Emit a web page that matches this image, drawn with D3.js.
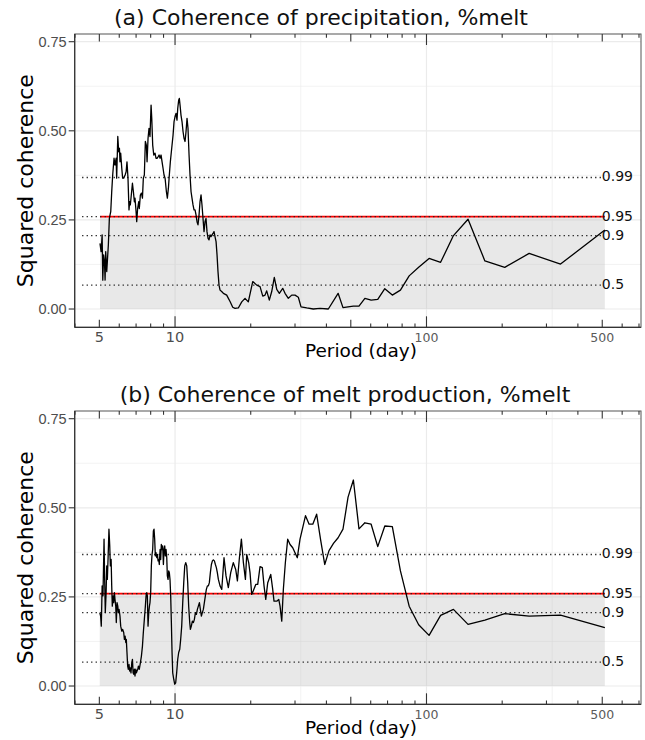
<!DOCTYPE html>
<html>
<head>
<meta charset="utf-8">
<script src="https://cdn.jsdelivr.net/npm/d3@7"></script>
<style>
  body { margin: 0; background: #fff; }
  svg { display: block; font-family: "DejaVu Sans", sans-serif; }
</style>
</head>
<body>
<svg id="chart" width="645" height="740"></svg>
<script>
// period (day) and squared coherence
var precipPeriod = [
  5.03,5.08,5.13,5.16,5.20,5.24,5.27,5.30,5.35,5.38,
  5.43,5.48,5.55,5.60,5.65,5.72,5.77,5.83,5.86,5.92,
  5.97,6.01,6.04,6.08,6.14,6.19,6.25,6.33,6.39,6.44,
  6.50,6.56,6.60,6.64,6.70,6.77,6.83,6.89,6.93,7.00,
  7.04,7.10,7.17,7.21,7.28,7.35,7.42,7.48,7.55,7.62,
  7.69,7.74,7.81,7.88,7.95,8.03,8.08,8.15,8.23,8.33,
  8.40,8.48,8.56,8.64,8.72,8.80,8.88,8.96,9.04,9.13,
  9.24,9.32,9.41,9.49,9.58,9.70,9.82,9.91,10.00,10.09,
  10.18,10.25,10.34,10.40,10.47,10.56,10.66,10.76,10.86,10.96,
  11.06,11.16,11.26,11.37,11.47,11.58,11.68,11.79,11.90,12.01,
  12.12,12.23,12.34,12.46,12.57,12.69,12.80,12.92,13.04,13.16,
  13.28,13.40,13.53,13.65,13.78,13.90,14.03,14.16,14.29,14.42,
  14.56,14.69,14.82,14.96,15.10,15.33,15.57,16.05,16.30,16.55,
  16.96,17.32,17.85,18.42,18.98,19.56,20.37,21.13,21.78,22.33,
  22.80,23.15,23.71,24.24,24.82,25.38,25.99,26.81,27.38,28.22,
  29.11,30.00,30.93,31.70,33.40,35.46,37.72,40.70,44.52,46.55,
  48.76,51.20,53.89,56.89,60.24,64.00,68.27,73.14,78.77,85.33,
  93.09,102.4,113.8,128.0,146.3,170.7,204.8,256.0,341.3,512.0
];
var precipCoh = [
  0.184,0.161,0.208,0.081,0.152,0.133,0.081,0.161,0.105,0.133,
  0.180,0.254,0.273,0.329,0.376,0.423,0.404,0.423,0.367,0.484,
  0.441,0.451,0.413,0.437,0.395,0.367,0.367,0.376,0.385,0.413,
  0.367,0.278,0.301,0.292,0.320,0.353,0.329,0.301,0.311,0.273,
  0.245,0.282,0.301,0.282,0.320,0.325,0.311,0.367,0.376,0.470,
  0.460,0.413,0.479,0.507,0.484,0.572,0.535,0.460,0.432,0.437,
  0.423,0.423,0.427,0.432,0.423,0.432,0.413,0.395,0.376,0.367,
  0.329,0.311,0.339,0.376,0.413,0.451,0.488,0.526,0.540,0.549,
  0.530,0.563,0.586,0.591,0.572,0.544,0.526,0.498,0.479,0.470,
  0.498,0.535,0.507,0.432,0.376,0.329,0.311,0.292,0.278,0.278,
  0.264,0.245,0.236,0.264,0.301,0.320,0.292,0.254,0.217,0.245,
  0.254,0.217,0.198,0.194,0.208,0.203,0.208,0.212,0.217,0.203,
  0.189,0.152,0.105,0.067,0.053,0.049,0.044,0.039,0.030,0.021,
  0.005,0.002,0.003,0.020,0.030,0.020,0.077,0.067,0.063,0.036,
  0.039,0.051,0.025,0.049,0.089,0.055,0.044,0.058,0.044,0.030,
  0.039,0.039,0.033,0.006,0.003,0.000,0.002,0.000,0.044,0.004,
  0.006,0.008,0.008,0.030,0.025,0.027,0.057,0.039,0.053,0.093,
  0.117,0.142,0.131,0.206,0.252,0.135,0.117,0.156,0.126,0.222
];

// period (day) and squared coherence
var meltPeriod = [
  5.02,5.06,5.09,5.13,5.17,5.22,5.25,5.28,5.32,5.35,
  5.38,5.42,5.46,5.50,5.53,5.57,5.60,5.63,5.67,5.70,
  5.74,5.77,5.81,5.84,5.88,5.92,5.95,5.99,6.04,6.08,
  6.14,6.19,6.25,6.29,6.33,6.37,6.40,6.44,6.48,6.52,
  6.56,6.60,6.64,6.68,6.73,6.77,6.81,6.85,6.89,6.93,
  6.98,7.02,7.06,7.11,7.15,7.21,7.28,7.35,7.42,7.48,
  7.55,7.62,7.67,7.72,7.76,7.81,7.86,7.91,7.95,8.00,
  8.05,8.10,8.15,8.20,8.25,8.30,8.35,8.40,8.46,8.51,
  8.56,8.61,8.66,8.72,8.77,8.82,8.88,8.93,8.99,9.04,
  9.10,9.15,9.21,9.27,9.32,9.38,9.44,9.49,9.55,9.61,
  9.67,9.73,9.79,9.88,9.97,10.06,10.15,10.25,10.34,10.44,
  10.53,10.63,10.73,10.83,10.93,11.03,11.13,11.23,11.33,11.44,
  11.51,11.61,11.72,11.83,11.94,12.05,12.16,12.27,12.38,12.50,
  12.61,12.73,12.84,12.96,13.08,13.20,13.32,13.45,13.57,13.69,
  13.82,13.95,14.08,14.20,14.34,14.47,14.60,14.73,14.87,15.10,
  15.34,15.66,15.95,16.29,16.65,17.05,17.43,17.70,18.03,18.36,
  18.70,19.05,19.28,19.63,19.87,20.18,20.48,20.94,21.32,21.78,
  22.24,22.59,22.95,23.37,24.02,24.46,24.75,25.38,25.85,26.16,
  26.57,26.96,27.46,28.06,28.67,29.38,30.00,30.64,31.41,33.03,
  34.13,35.31,36.57,37.93,39.38,40.96,42.67,44.52,46.55,48.76,
  51.20,53.89,56.89,60.24,64.00,68.27,73.14,78.77,85.33,93.09,
  102.4,113.8,128.0,146.3,170.7,204.8,256.0,341.3,512.0
];
var meltCoh = [
  0.206,0.196,0.168,0.281,0.253,0.412,0.299,0.206,0.262,0.337,
  0.299,0.365,0.440,0.393,0.337,0.355,0.281,0.224,0.253,0.234,
  0.262,0.243,0.224,0.178,0.234,0.224,0.206,0.215,0.196,0.168,
  0.154,0.159,0.150,0.131,0.140,0.122,0.131,0.094,0.056,0.047,
  0.061,0.042,0.051,0.037,0.065,0.075,0.037,0.033,0.047,0.028,
  0.047,0.037,0.042,0.047,0.056,0.047,0.065,0.084,0.112,0.150,
  0.187,0.224,0.253,0.262,0.253,0.168,0.206,0.224,0.234,0.262,
  0.337,0.369,0.383,0.435,0.440,0.412,0.365,0.374,0.360,0.369,
  0.351,0.355,0.341,0.383,0.355,0.397,0.383,0.393,0.341,0.383,
  0.393,0.365,0.383,0.360,0.309,0.299,0.323,0.318,0.299,0.253,
  0.178,0.094,0.037,0.019,0.005,0.009,0.037,0.075,0.094,0.103,
  0.131,0.168,0.234,0.290,0.337,0.346,0.337,0.290,0.224,0.178,
  0.159,0.168,0.182,0.178,0.187,0.206,0.201,0.215,0.224,0.234,
  0.215,0.196,0.206,0.215,0.234,0.253,0.271,0.281,0.281,0.290,
  0.318,0.341,0.351,0.354,0.351,0.341,0.332,0.318,0.299,0.281,
  0.271,0.360,0.309,0.276,0.318,0.346,0.327,0.295,0.360,0.412,
  0.346,0.299,0.369,0.346,0.318,0.257,0.267,0.285,0.285,0.335,
  0.332,0.281,0.243,0.290,0.313,0.271,0.238,0.238,0.243,0.224,
  0.182,0.271,0.346,0.412,0.397,0.388,0.374,0.360,0.412,0.478,
  0.454,0.454,0.482,0.410,0.341,0.380,0.400,0.416,0.440,0.530,
  0.578,0.441,0.458,0.454,0.391,0.449,0.447,0.323,0.224,0.172,
  0.142,0.198,0.215,0.173,0.185,0.203,0.196,0.199,0.164
];

// significance levels of squared coherence
var sigLabels = ["0.99", "0.95", "0.9", "0.5"];
var sigLevels = [0.369, 0.259, 0.206, 0.067];

var yTicks = [0, 0.25, 0.5, 0.75];
var yMinor = [0.125, 0.375, 0.625];
var xMajorGrid = [10, 100];
var xMinorGrid = [31.62, 316.2];
var xLabels = [5, 10, 100, 500];

var titles = ["(a) Coherence of precipitation, %melt", "(b) Coherence of melt production, %melt"];

var svg = d3.select("#chart");
svg.append("rect").attr("width", 645).attr("height", 740).attr("fill", "#fff");

var left = 74.7, width = 566.3, height = 293.3;

var x = d3.scaleLog().domain([3.99, 713]).range([0, width]);
var y = d3.scaleLinear().domain([-0.0513, 0.7716]).range([height, 0]);

// log tick marks: long at 10^k, mid at 5*10^k, short at the rest
var logTicks = [];
[1, 10, 100].forEach(function(d) {
  d3.range(1, 10).forEach(function(k) {
    var v = k * d;
    if (v >= 3.99 && v <= 713) logTicks.push({v: v, len: k == 1 ? 11 : (k == 5 ? 7.6 : 3.8)});
  });
});

function drawPanel(top, title, titleX, period, coh) {
  var g = svg.append("g").attr("transform", "translate(" + left + "," + top + ")");
  var data = period.map(function(p, i) { return {p: p, c: coh[i]}; });
  var ext = d3.extent(period);

  // grid
  g.selectAll(".hminor").data(yMinor).enter().append("line")
    .attr("x1", 0).attr("x2", width).attr("y1", y).attr("y2", y)
    .attr("stroke", "#ebebeb").attr("stroke-width", 0.6);
  g.selectAll(".vminor").data(xMinorGrid).enter().append("line")
    .attr("y1", 0).attr("y2", height).attr("x1", x).attr("x2", x)
    .attr("stroke", "#ebebeb").attr("stroke-width", 0.6);
  g.selectAll(".hmajor").data(yTicks).enter().append("line")
    .attr("x1", 0).attr("x2", width).attr("y1", y).attr("y2", y)
    .attr("stroke", "#ebebeb").attr("stroke-width", 1.2);
  g.selectAll(".vmajor").data(xMajorGrid).enter().append("line")
    .attr("y1", 0).attr("y2", height).attr("x1", x).attr("x2", x)
    .attr("stroke", "#ebebeb").attr("stroke-width", 1.2);

  // shaded zone below the 95% level
  g.append("rect")
    .attr("x", x(ext[0])).attr("width", x(ext[1]) - x(ext[0]))
    .attr("y", y(sigLevels[1])).attr("height", y(0) - y(sigLevels[1]))
    .attr("fill", "#bdbdbd").attr("opacity", 0.35);

  // 95% level in red
  g.append("line")
    .attr("x1", x(ext[0])).attr("x2", x(ext[1]))
    .attr("y1", y(sigLevels[1])).attr("y2", y(sigLevels[1]))
    .attr("stroke", "#ff0000").attr("stroke-width", 1.8);

  // dotted significance lines
  g.selectAll(".sig").data(sigLevels).enter().append("line")
    .attr("x1", x(4.27)).attr("x2", x(497))
    .attr("y1", y).attr("y2", y)
    .attr("stroke", "#222").attr("stroke-width", 1.3)
    .attr("stroke-dasharray", "1.3,3.2");

  g.selectAll(".siglab").data(sigLevels).enter().append("text")
    .attr("x", x(ext[1]) - 3).attr("y", function(d) { return y(d) - 1; })
    .attr("dominant-baseline", "central")
    .style("font-size", "14px").attr("fill", "#111")
    .text(function(d, i) { return sigLabels[i]; });

  // coherence curve
  var line = d3.line().x(function(d) { return x(d.p); }).y(function(d) { return y(d.c); });
  g.append("path").datum(data).attr("d", line)
    .attr("fill", "none").attr("stroke", "#000").attr("stroke-width", 1.3)
    .attr("stroke-linejoin", "round");

  // border and axes
  g.append("rect").attr("width", width).attr("height", height)
    .attr("fill", "none").attr("stroke", "#555").attr("stroke-width", 1);
  g.append("line").attr("x1", 0).attr("x2", 0).attr("y1", 0).attr("y2", height)
    .attr("stroke", "#333").attr("stroke-width", 1.2);
  g.append("line").attr("x1", 0).attr("x2", width).attr("y1", height).attr("y2", height)
    .attr("stroke", "#333").attr("stroke-width", 1.2);

  g.selectAll(".lt").data(logTicks).enter().append("line")
    .attr("x1", function(d) { return x(d.v); }).attr("x2", function(d) { return x(d.v); })
    .attr("y1", height).attr("y2", function(d) { return height - d.len; })
    .attr("stroke", "#333").attr("stroke-width", 1.1);
  g.selectAll(".tt").data(logTicks).enter().append("line")
    .attr("x1", function(d) { return x(d.v); }).attr("x2", function(d) { return x(d.v); })
    .attr("y1", 0).attr("y2", function(d) { return d.len; })
    .attr("stroke", "#333").attr("stroke-width", 1.1);

  g.selectAll(".yt").data(yTicks).enter().append("line")
    .attr("x1", -6).attr("x2", 0).attr("y1", y).attr("y2", y)
    .attr("stroke", "#333").attr("stroke-width", 1.1);
  g.selectAll(".yl").data(yTicks).enter().append("text")
    .attr("x", -8).attr("y", y).attr("dominant-baseline", "central")
    .attr("text-anchor", "end")
    .style("font-family", "'Liberation Sans', Arial, sans-serif").style("font-size", "14.5px")
    .attr("fill", "#4d4d4d")
    .text(d3.format(".2f"));

  g.selectAll(".xl").data(xLabels).enter().append("text")
    .attr("x", x).attr("y", height + 15)
    .attr("text-anchor", "middle")
    .style("font-size", function(d) { return d < 50 ? "14.5px" : "12.5px"; })
    .attr("fill", function(d) { return d < 50 ? "#4d4d4d" : "#5a5a5a"; })
    .text(function(d) { return d; });

  // titles
  g.append("text").attr("x", 361 - left).attr("y", height + 29.5)
    .attr("text-anchor", "middle").style("font-size", "18.5px").attr("fill", "#000")
    .text("Period (day)");
  g.append("text")
    .attr("transform", "translate(" + (33 - left) + "," + (height / 2) + ") rotate(-90)")
    .attr("text-anchor", "middle").style("font-size", "22px").attr("fill", "#000")
    .text("Squared coherence");
  g.append("text").attr("x", titleX - left).attr("y", -9.5)
    .attr("text-anchor", "middle").style("font-size", "22px").attr("fill", "#111")
    .text(title);
}

drawPanel(34, titles[0], 321, precipPeriod, precipCoh);
drawPanel(411, titles[1], 345, meltPeriod, meltCoh);
</script>
</body>
</html>
